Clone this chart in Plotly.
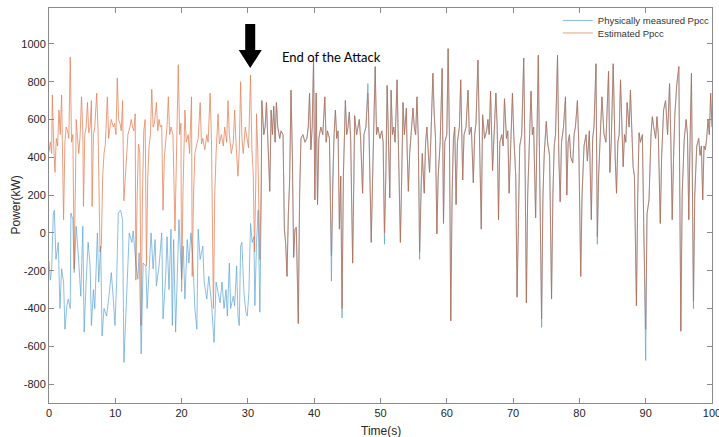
import plotly.graph_objects as go

# ---------------- data ----------------
# Estimated Ppcc (orange) : time [s] and power [kW]
est_t = [
    0.0, 0.2, 0.4, 0.5, 0.7, 0.9, 1.1, 1.3, 1.5, 1.7,
    1.9, 2.1, 2.2, 2.4, 2.6, 2.8, 3.0, 3.2, 3.4, 3.6,
    3.8, 4.0, 4.1, 4.3, 4.5, 4.7, 4.9, 5.1, 5.2, 5.4,
    5.6, 5.8, 6.0, 6.2, 6.4, 6.5, 6.7, 6.9, 7.2, 7.4,
    7.7, 7.9, 8.1, 8.3, 8.5, 8.8, 9.0, 9.2, 9.4, 9.7,
    9.9, 10.1, 10.3, 10.5, 10.7, 10.9, 11.1, 11.3, 11.5, 11.7,
    11.9, 12.2, 12.4, 12.6, 12.8, 13.0, 13.1, 13.3, 13.5, 13.7,
    13.9, 14.1, 14.3, 14.5, 14.7, 14.9, 15.1, 15.3, 15.5, 15.7,
    15.9, 16.2, 16.4, 16.6, 16.8, 17.0, 17.2, 17.4, 17.6, 17.8,
    18.0, 18.2, 18.4, 18.7, 19.0, 19.2, 19.5, 19.7, 19.9, 20.0,
    20.2, 20.5, 20.7, 21.0, 21.2, 21.5, 21.6, 21.8, 22.0, 22.3,
    22.5, 22.8, 23.0, 23.2, 23.5, 23.8, 24.0, 24.3, 24.5, 24.8,
    25.0, 25.2, 25.5, 25.7, 26.0, 26.3, 26.5, 26.8, 27.0, 27.2,
    27.5, 27.8, 28.0, 28.2, 28.5, 28.7, 28.9, 29.1, 29.3, 29.6,
    29.9, 30.1, 30.4, 30.6, 30.8, 31.0, 31.2, 31.3, 31.5, 31.8,
    32.0, 32.1, 32.4, 32.6, 32.8, 33.0, 33.3, 33.5, 33.7, 33.9,
    34.1, 34.3, 34.5, 34.8, 35.0, 35.3, 35.5, 35.7, 35.9, 36.1,
    36.3, 36.5, 36.7, 36.9, 37.1, 37.3, 37.6, 37.8, 38.0, 38.3,
    38.6, 38.9, 39.1, 39.3, 39.5, 39.7, 39.9, 40.1, 40.3, 40.5,
    40.7, 41.0, 41.3, 41.6, 41.8, 42.0, 42.3, 42.6, 42.8, 43.0,
    43.2, 43.4, 43.6, 43.8, 44.0, 44.2, 44.4, 44.7, 44.9, 45.1,
    45.3, 45.5, 45.8, 46.0, 46.1, 46.4, 46.8, 47.0, 47.3, 47.5,
    47.8, 48.1, 48.3, 48.6, 48.8, 49.0, 49.2, 49.4, 49.6, 49.9,
    50.2, 50.4, 50.6, 50.8, 51.0, 51.2, 51.4, 51.6, 51.8, 52.0,
    52.2, 52.5, 52.7, 53.0, 53.2, 53.4, 53.6, 53.9, 54.0, 54.2,
    54.4, 54.6, 54.9, 55.1, 55.3, 55.5, 55.7, 55.9, 56.1, 56.3,
    56.6, 56.8, 57.0, 57.2, 57.4, 57.6, 57.9, 58.1, 58.3, 58.5,
    58.7, 59.0, 59.3, 59.5, 59.7, 60.0, 60.2, 60.4, 60.6, 60.8,
    61.0, 61.2, 61.4, 61.6, 61.9, 62.1, 62.4, 62.6, 62.9, 63.2,
    63.4, 63.7, 64.0, 64.2, 64.4, 64.7, 64.9, 65.2, 65.4, 65.7,
    66.0, 66.2, 66.4, 66.6, 66.9, 67.1, 67.4, 67.6, 67.8, 68.0,
    68.3, 68.5, 68.7, 69.0, 69.2, 69.4, 69.6, 69.9, 70.1, 70.4,
    70.6, 70.8, 71.0, 71.3, 71.6, 71.8, 72.0, 72.2, 72.5, 72.7,
    72.9, 73.1, 73.4, 73.6, 73.8, 74.0, 74.3, 74.5, 74.7, 75.0,
    75.2, 75.5, 75.8, 76.0, 76.2, 76.4, 76.7, 76.9, 77.1, 77.3,
    77.6, 77.9, 78.1, 78.3, 78.5, 78.7, 79.0, 79.2, 79.4, 79.7,
    79.9, 80.2, 80.4, 80.7, 81.0, 81.2, 81.5, 81.8, 82.0, 82.2,
    82.5, 82.7, 82.9, 83.2, 83.4, 83.7, 84.0, 84.4, 84.6, 84.8,
    85.1, 85.4, 85.6, 85.8, 86.0, 86.2, 86.4, 86.6, 86.8, 87.0,
    87.2, 87.5, 87.7, 87.9, 88.1, 88.3, 88.6, 88.8, 89.0, 89.2,
    89.5, 89.7, 90.0, 90.2, 90.5, 90.8, 91.0, 91.2, 91.5, 91.7,
    91.9, 92.2, 92.4, 92.7, 93.0, 93.3, 93.6, 93.8, 94.0, 94.2,
    94.4, 94.7, 95.0, 95.3, 95.5, 95.8, 96.1, 96.3, 96.5, 96.7,
    96.9, 97.2, 97.4, 97.7, 98.0, 98.2, 98.4, 98.6, 98.8, 99.0,
    99.2, 99.4, 99.6, 99.8, 100.0,
]
est_kw = [
    430, 480, 420, 730, 470, 320, 500, 460, 650, 520,
    730, 280, 70, 480, 560, 540, 500, 930, 480, 520,
    -190, 300, 600, 500, 420, 520, 720, 540, 140, 520,
    560, 690, 530, 560, 700, 140, 520, 560, 740, 540,
    -100, -60, 300, 420, 470, 720, 500, 560, 600, 560,
    580, 520, 820, 600, 580, 540, 700, 170, 300, 430,
    520, 560, 600, 560, 540, 630, -250, 200, 470, 420,
    -490, 200, 540, 600, -175, 300, 460, 520, 760, 560,
    580, 690, 540, 600, 560, 570, 120, 400, 480, 560,
    720, 520, 560, 520, 10, 300, 890, 520, 580, -310,
    200, 650, 480, 520, 420, 720, -230, 200, 420, 470,
    500, 690, 470, 500, 440, 520, 480, 740, 500, -400,
    200, 420, 630, 470, 520, 460, 560, 480, 700, 520,
    420, 480, 650, 480, 300, 440, 800, 500, 420, 560,
    500, 450, 835, 440, 320, -100, 300, 630, 420, -140,
    250, 700, 520, 560, 690, 470, 220, 650, 520, 670,
    480, 690, 560, 500, 540, 520, 20, -60, -230, 100,
    280, 755, 420, -130, 20, 30, -480, 200, 500, 520,
    480, 500, 560, 740, 440, 560, 920, 175, 740, 150,
    500, 560, 520, 720, 480, 540, 500, -120, 300, 520,
    650, 500, 540, 20, 300, -400, 300, 700, 520, 560,
    640, 500, -160, 300, 620, 520, 600, 500, 210, 520,
    560, 740, 500, -50, 300, 560, 880, 520, 560, 500,
    540, 480, 0, 300, 780, 500, 185, 755, 520, 560,
    480, 810, 500, -50, 300, 690, 520, 660, 460, 220,
    420, 500, 660, 560, 520, 720, 500, -100, 250, 420,
    210, 480, 560, 420, 320, 500, 845, 630, 500, -5,
    300, 480, 870, 50, 480, 520, 975, 500, -465, 200,
    500, 560, 150, 480, 560, 810, 280, 520, 560, 755,
    520, 560, 265, 520, 580, 915, 540, 20, 625, 500,
    540, 600, 520, 750, 330, 520, 740, 560, 70, 480,
    520, 460, 710, 500, 540, 210, 480, 740, 520, 300,
    -340, 200, 460, 520, 925, 400, -370, 200, 500, 750,
    520, 560, 80, 520, 940, 350, -455, 200, 420, 590,
    480, 410, -350, 200, 460, 520, 940, 400, 165, 480,
    560, 720, 200, 480, 520, 400, 370, 520, 560, 700,
    480, -230, 200, 460, 520, 380, 540, 70, 500, 560,
    895, -20, 300, 560, 720, 525, 480, 855, 320, 480,
    895, 400, 210, 480, 520, 810, 520, 350, 520, 480,
    690, 560, 755, 500, 350, 300, -385, 200, 530, 480,
    520, 50, -510, 100, 175, 520, 615, 560, 500, 615,
    520, 50, 400, 650, 700, 520, 790, 480, 70, 400,
    630, 790, 880, -520, 200, 490, 600, 520, 70, 500,
    845, -360, 200, 460, 500, 410, 460, 175, 460, 440,
    500, 600, 520, 740, 560,
]

# Physically measured Ppcc (blue) during the attack window
meas_attack_t = [
    0.0, 0.2, 0.4, 0.65, 0.8, 1.05, 1.4, 1.65, 1.9, 2.2,
    2.4, 2.7, 2.9, 3.2, 3.3, 3.6, 3.8, 4.1, 4.4, 4.8,
    5.1, 5.3, 5.6, 5.9, 6.2, 6.4, 6.7, 6.9, 7.3, 7.5,
    7.8, 8.0, 8.3, 8.7, 9.1, 9.4, 9.7, 9.95, 10.2, 10.45,
    10.8, 11.1, 11.3, 11.55, 11.8, 12.1, 12.5, 12.7, 13.1, 13.4,
    13.6, 13.9, 14.2, 14.6, 14.8, 15.1, 15.4, 15.7, 16.0, 16.2,
    16.6, 17.0, 17.2, 17.6, 17.8, 18.1, 18.4, 18.6, 18.8, 19.1,
    19.4, 19.6, 20.0, 20.25, 20.5, 20.85, 21.1, 21.4, 21.7, 22.0,
    22.3, 22.5, 22.8, 23.2, 23.4, 23.8, 24.1, 24.5, 24.9, 25.2,
    25.5, 25.8, 26.1, 26.4, 26.7, 26.9, 27.2, 27.4, 27.8, 28.0,
    28.3, 28.5, 28.7, 28.9, 29.1, 29.4, 29.7, 29.9, 30.15, 30.4,
    30.65, 30.9, 31.05, 31.3, 31.55, 31.8, 32.0,
]
meas_attack_kw = [
    -150, -250, -190, 100, 120, -140, -50, -400, -190, -260,
    -510, -385, -350, -400, 105, 70, -210, 35, -105, -335,
    35, -525, -260, -50, -175, -490, -300, -400, 0, -260,
    -70, -545, -400, -440, -315, -210, -350, -490, -260, 105,
    120, 70, -685, -490, -245, 0, -50, 10, -160, -245,
    -105, -640, -160, -175, -400, -210, 0, -190, -35, -280,
    -175, 0, -455, -230, -20, -300, 20, -490, -35, -525,
    -175, 70, -245, -70, -350, -35, -160, 0, -140, -400,
    -510, 20, -140, -70, -260, -350, -230, -370, -580, -260,
    -315, -370, -260, -400, -300, -440, -160, -400, -335, -385,
    -175, -440, -490, -70, -50, -315, -420, -440, -315, 50,
    -50, -20, -385, -50, 120, -420, 120,
]
# after the attack the measured power follows the estimate, except at these samples
meas_dev_t = [42.6, 44.2, 48.1, 50.6, 55.9, 74.3, 82.7, 90.0, 97.2]
meas_dev_kw = [-255, -450, 790, -60, -140, -500, -60, -675, -400]

attack_end_t = 32.0
x_ticks = [0, 10, 20, 30, 40, 50, 60, 70, 80, 90, 100]
x_tick_labels = ["0", "10", "20", "30", "40", "50", "60", "70", "80", "90", "100"]
y_ticks = [-800, -600, -400, -200, 0, 200, 400, 600, 800, 1000]
y_tick_labels = ["-800", "-600", "-400", "-200", "0", "200", "400", "600", "800", "1000"]

assert len(est_t) == len(est_kw)
assert len(meas_attack_t) == len(meas_attack_kw)

# measured series = attack window + post-attack samples (with deviations)
dev = dict(zip(meas_dev_t, meas_dev_kw))
meas_t = list(meas_attack_t)
meas_kw = list(meas_attack_kw)
for t, v in zip(est_t, est_kw):
    if t > attack_end_t:
        meas_t.append(t)
        meas_kw.append(dev.get(t, v))

# ---------------- figure ----------------
BLUE = "#0072BD"
ORANGE = "#D95319"
AX = "#8a8a8a"
TXT = "#262626"
FONT = "Liberation Sans, Arial, sans-serif"

fig = go.Figure()
fig.add_trace(go.Scatter(x=meas_t, y=meas_kw, mode="lines", name="Physically measured Ppcc",
                         line=dict(color=BLUE, width=0.7), opacity=0.65, legend="legend"))
fig.add_trace(go.Scatter(x=est_t, y=est_kw, mode="lines", name="Estimated Ppcc",
                         line=dict(color=ORANGE, width=0.8), opacity=0.7, legend="legend2"))

axis_common = dict(showgrid=False, zeroline=False, showline=True, linecolor=AX, linewidth=1,
                   mirror="ticks", ticks="inside", ticklen=5, tickcolor=AX, tickwidth=1,
                   automargin=False,
                   tickfont=dict(family=FONT, size=11, color=TXT))

legend_common = dict(x=0.7675, xanchor="left", yanchor="top", bgcolor="rgba(0,0,0,0)",
                     font=dict(family=FONT, size=9.5, color="#333333"), itemwidth=30)

fig.update_layout(
    width=719, height=437,
    margin=dict(l=49, r=6.5, t=7.5, b=34, autoexpand=False),
    paper_bgcolor="white", plot_bgcolor="white",
    font=dict(family=FONT, color=TXT),
    xaxis=dict(range=[0, 100], tickmode="array", tickvals=x_ticks, ticktext=x_tick_labels,
               ticklabeloverflow="allow", **axis_common),
    yaxis=dict(range=[-900, 1190], tickmode="array", tickvals=y_ticks, ticktext=y_tick_labels,
               **axis_common),
    legend=dict(y=1.005, **legend_common),
    legend2=dict(y=0.9735, **legend_common),
    showlegend=True,
)

# axis titles
fig.add_annotation(x=0.5, y=0, xref="paper", yref="paper", xanchor="center", yanchor="top",
                   yshift=-19, text="Time(s)", showarrow=False,
                   font=dict(family=FONT, size=12, color=TXT))
fig.add_annotation(x=0, y=0.5, xref="paper", yref="paper", xanchor="center", yanchor="middle",
                   xshift=-34, textangle=-90, text="Power(kW)", showarrow=False,
                   font=dict(family=FONT, size=12, color=TXT))

# "End of the Attack" marker: solid black arrow anchored at t = 30.35 s
fig.add_shape(type="path", xref="x", yref="y", xsizemode="pixel", ysizemode="pixel",
              xanchor=30.35, yanchor=872,
              path="M 0 0 L -11.5 18 L -5 18 L -5 44 L 5 44 L 5 18 L 11.5 18 Z",
              fillcolor="black", line=dict(color="black", width=0))
fig.add_annotation(x=34.8, y=930, xref="x", yref="y", xanchor="left", yanchor="middle",
                   text="End of the Attack", showarrow=False,
                   font=dict(family="Lato, Open Sans, sans-serif", size=13, color="black"))

fig.write_html("out.html", config={"displayModeBar": False},
               post_script="document.body.style.margin='0';")
